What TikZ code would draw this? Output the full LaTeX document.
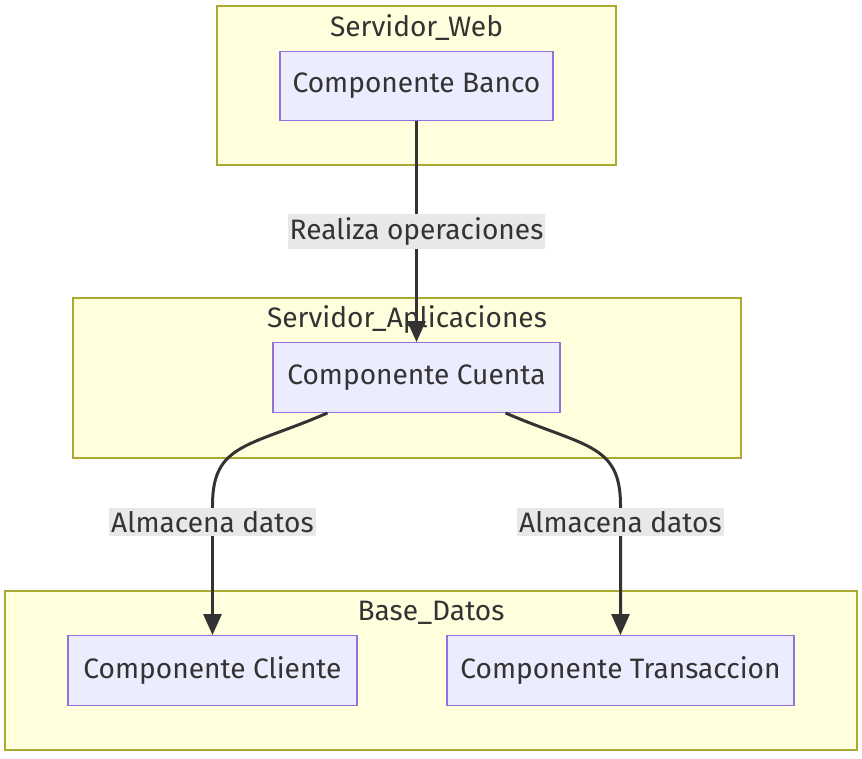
\documentclass[tikz,border=0pt]{standalone}
\usepackage{fontspec}
\setmainfont{Fira Sans}
\usetikzlibrary{arrows.meta,positioning,calc}
\definecolor{fondogrupo}{HTML}{FFFFDE}
\definecolor{bordegrupo}{HTML}{AAAA33}
\definecolor{fondocomp}{HTML}{ECECFF}
\definecolor{bordecomp}{HTML}{9370DB}
\definecolor{gristexto}{HTML}{333333}
\definecolor{fondoetiq}{HTML}{E8E8E8}
\begin{document}
\begin{tikzpicture}[x=0.02cm, y=-0.02cm, >={Triangle[length=0.42cm,width=0.36cm]}, font=\fontsize{16}{19}\selectfont, text=gristexto]
\tikzstyle{cluster}=[rectangle,fill=fondogrupo,draw=bordegrupo,line width=0.8pt,inner sep=0pt]
\tikzstyle{titulo}=[inner sep=1pt]
\tikzstyle{componente}=[rectangle,fill=fondocomp,draw=bordecomp,line width=0.8pt,minimum height=1.39cm]
\tikzstyle{flecha}=[->,draw=gristexto,line width=1.7pt]
\tikzstyle{etiqueta}=[fill=fondoetiq,inner xsep=1pt,inner ysep=2pt]
\useasboundingbox (0,0) rectangle (862,758);
% grupos
\node[cluster,minimum width=7.98cm,minimum height=3.18cm]  (web)  at (416.5,85.5) {};
\node[cluster,minimum width=13.36cm,minimum height=3.2cm]  (apps) at (407,378)    {};
\node[cluster,minimum width=17.04cm,minimum height=3.18cm] (base) at (431,670.5)  {};
\node[titulo] (tweb)  at ($(web.north)+(0,22)$)  {Servidor\_Web};
\node[titulo] (tapps) at ($(apps.north)+(0,22)$) {Servidor\_Aplicaciones};
\node[titulo] (tbase) at ($(base.north)+(0,22)$) {Base\_Datos};
% componentes
\node[componente,minimum width=5.46cm] (banco)       at (416.5,86)    {Componente Banco};
\node[componente,minimum width=5.74cm] (cuenta)      at (416.5,377.5) {Componente Cuenta};
\node[componente,minimum width=5.78cm] (cliente)     at (212.5,670.5) {Componente Cliente};
\node[componente,minimum width=6.94cm] (transaccion) at (620.5,670.5) {Componente Transaccion};
% relaciones
\draw[flecha] (banco) -- node[etiqueta]{Realiza operaciones} (cuenta);
\draw[flecha] ($(cuenta.south)+(-89,0)$) .. controls +(-78,34) and +(0,-62) .. ($(cliente.north)+(0,-130)$)
    -- node[etiqueta,pos=0.13]{Almacena datos} (cliente.north);
\draw[flecha] ($(cuenta.south)+(89,0)$) .. controls +(78,34) and +(0,-62) .. ($(transaccion.north)+(0,-130)$)
    -- node[etiqueta,pos=0.13]{Almacena datos} (transaccion.north);
\end{tikzpicture}
\end{document}
